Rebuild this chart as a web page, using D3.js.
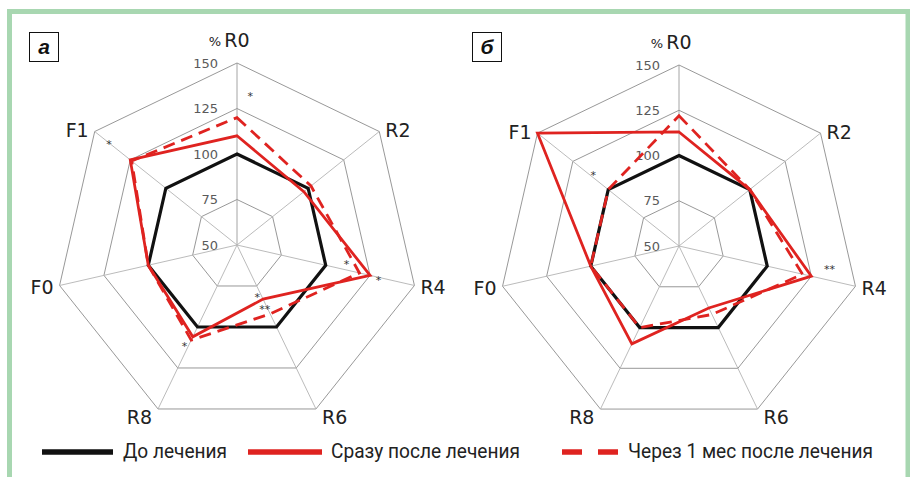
<!DOCTYPE html>
<html><head><meta charset="utf-8">
<script src="https://cdn.jsdelivr.net/npm/d3@7/dist/d3.min.js"></script>
<style>html,body{margin:0;padding:0;background:#fff}svg{display:block}</style>
</head><body>
<svg id="c" width="910" height="477"></svg>
<script>
// ---- data ----
const axes = ["R0", "R2", "R4", "R6", "R8", "F0", "F1"];
const ringTicks = [75, 100, 125, 150];
const tickLabels = ["150", "125", "100", "75", "50"];
const tickValues = [150, 125, 100, 75, 50];
const seriesNames = ["До лечения", "Сразу после лечения", "Через 1 мес после лечения"];
const panelNames = ["а", "б"];

const aBefore    = [100, 100, 100, 100, 100, 100, 100];
const aImmediate = [110,  97, 125,  83, 106, 100, 125];
const aMonth     = [120, 102, 119,  92, 108, 100, 124];

const bBefore    = [100, 100, 100, 100, 100, 100, 100];
const bImmediate = [113, 100, 125,  88, 110, 100, 150];
const bMonth     = [122, 100, 120,  92, 100, 100, 100];

// significance marks: axis, value level, text
const aStars = [["R0",133,"*"],["F1",140,"*"],["R4",111,"*"],["R4",130,"*"],["R6",80,"*"],["R6",88,"**"],["R8",112,"*"]];
const bStars = [["F1",112,"*"],["R4",134,"**"]];
// small angular nudges (degrees) for the marks
const aNudge = [5, 0, -3.5, 0.7, 4, 2, 2];
const bNudge = [1.5, -4.5];

// ---- layout ----
const svg = d3.select("#c");
const W = 910, H = 477;
const red = "#df2320";
const font = "'DejaVu Sans', sans-serif";

// frame
svg.append("path")
  .attr("d", d3.line()([[9.5, H + 5], [9.5, 11.5], [908, 11.5], [908, H + 5]]))
  .attr("fill", "none").attr("stroke", "#a8d7b1").attr("stroke-width", 5);

function panel(cfg) {
  const {cx, cy, R, name, series, stars, nudge, boxX} = cfg;
  const g = svg.append("g").attr("transform", `translate(${cx},${cy})`);
  const r = d3.scaleLinear().domain([50, 150]).range([0, R]);
  const ang = d3.scalePoint().domain(axes).range([0, 2 * Math.PI * (axes.length - 1) / axes.length]);
  const pt = (a, v, da = 0) => {
    const t = ang(a) + da * Math.PI / 180;
    return [Math.sin(t) * r(v), -Math.cos(t) * r(v)];
  };

  // rings
  const ringLine = d3.line().curve(d3.curveLinearClosed);
  g.selectAll("path.ring").data(ringTicks).join("path")
    .attr("class", "ring")
    .attr("d", v => ringLine(axes.map(a => pt(a, v))))
    .attr("fill", "none").attr("stroke", "#8c8c8c").attr("stroke-width", 0.9);
  // spokes
  g.selectAll("line.spoke").data(axes).join("line")
    .attr("class", "spoke")
    .attr("x1", 0).attr("y1", 0)
    .attr("x2", a => pt(a, 150)[0]).attr("y2", a => pt(a, 150)[1])
    .attr("stroke", a => a === "R0" ? "#9a9a9a" : "#b3b3b3").attr("stroke-width", 0.9);

  // tick labels
  g.selectAll("text.tick").data(tickValues).join("text")
    .attr("class", "tick")
    .attr("x", -19).attr("y", v => -r(v))
    .attr("dy", "0.36em")
    .attr("text-anchor", "end")
    .attr("font-family", font).attr("font-size", 13).attr("fill", "#5a5a5a")
    .text((v, i) => tickLabels[i]);

  // axis labels
  axes.forEach(a => {
    const [x, y] = pt(a, 150);
    if (a === "R0") {
      g.append("text").attr("x", 0).attr("y", y - 16)
        .attr("text-anchor", "middle").attr("font-family", font).attr("font-size", 19).attr("fill", "#222")
        .text(a);
      g.append("text").attr("x", -16).attr("y", y - 17)
        .attr("text-anchor", "end").attr("font-family", font).attr("font-size", 13).attr("fill", "#222")
        .text("%");
      return;
    }
    const s = Math.sin(ang(a));
    const anchor = s > 0.1 ? "start" : (s < -0.1 ? "end" : "middle");
    const dx = s > 0 ? 6 : -6;
    const dy = y > 0 ? (Math.abs(s) < 0.5 ? 8 : 2) : -1;
    g.append("text").attr("x", x + dx).attr("y", y + dy).attr("dy", "0.36em")
      .attr("text-anchor", anchor).attr("font-family", font).attr("font-size", 19).attr("fill", "#222")
      .text(a);
  });

  // series
  const styles = [
    {stroke: "#111", width: 3.2, dash: null},
    {stroke: red, width: 2.8, dash: null},
    {stroke: red, width: 2.8, dash: "12,7"}
  ];
  series.forEach((vals, i) => {
    g.append("path")
      .attr("d", ringLine(axes.map((a, j) => pt(a, vals[j]))))
      .attr("fill", "none").attr("stroke", styles[i].stroke)
      .attr("stroke-width", styles[i].width)
      .attr("stroke-linejoin", "miter")
      .attr("stroke-dasharray", styles[i].dash);
  });

  // significance marks
  stars.forEach((s, i) => {
    const [x, y] = pt(s[0], s[1], nudge[i]);
    g.append("text").attr("x", x).attr("y", y + 5)
      .attr("text-anchor", "middle").attr("font-family", font).attr("font-size", 11).attr("fill", "#333")
      .text(s[2]);
  });

  // panel letter box
  svg.append("rect").attr("x", boxX + 0.5).attr("y", 32.5).attr("width", 29).attr("height", 29)
    .attr("fill", "#fff").attr("stroke", "#111").attr("stroke-width", 1);
  svg.append("text").attr("x", boxX + 15).attr("y", 54)
    .attr("text-anchor", "middle").attr("font-family", "'Liberation Sans', Arial, sans-serif")
    .attr("font-weight", "bold").attr("font-style", "italic").attr("font-size", 21).attr("fill", "#111")
    .text(name);
}

panel({cx: 237, cy: 245, R: 182, name: panelNames[0], series: [aBefore, aImmediate, aMonth], stars: aStars, nudge: aNudge, boxX: 29});
panel({cx: 679, cy: 246, R: 181, name: panelNames[1], series: [bBefore, bImmediate, bMonth], stars: bStars, nudge: bNudge, boxX: 472});

// legend
const leg = [
  {x1: 42, x2: 113, tx: 123, tl: 104, stroke: "#111", dash: null},
  {x1: 248, x2: 322, tx: 331, tl: 189, stroke: red, dash: null},
  {x1: 562, x2: 618, tx: 628, tl: 245, stroke: red, dash: "20,16"}
];
const lg = svg.append("g");
leg.forEach((d, i) => {
  lg.append("line").attr("x1", d.x1).attr("x2", d.x2).attr("y1", 452).attr("y2", 452)
    .attr("stroke", d.stroke).attr("stroke-width", 5.5).attr("stroke-dasharray", d.dash);
  lg.append("text").attr("x", d.tx).attr("y", 458)
    .attr("font-family", "Roboto, sans-serif").attr("font-size", 20).attr("fill", "#222")
    .attr("textLength", d.tl).attr("lengthAdjust", "spacingAndGlyphs")
    .text(seriesNames[i]);
});
</script>
</body></html>
